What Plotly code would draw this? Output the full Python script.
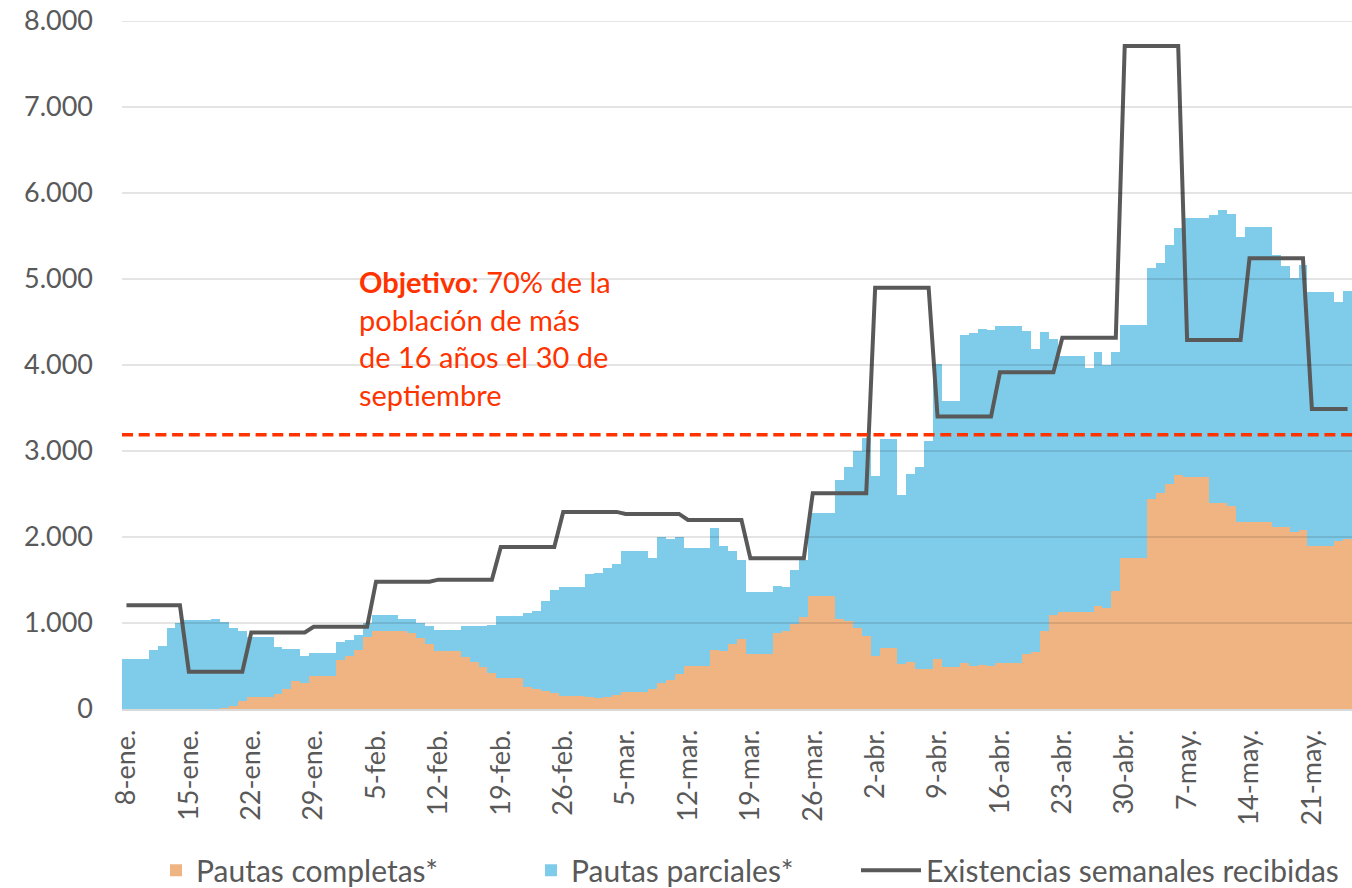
import pandas as pd
import plotly.graph_objects as go

# ---- data ----
dates = pd.date_range("2021-01-08", periods=138, freq="D")

completas = [
    0, 0, 0, 0, 0, 0, 0, 0, 0, 0, 0, 15, 35, 97,
    143, 143, 143, 174, 235, 329, 299, 388, 388, 388, 570, 620, 686, 833,
    910, 910, 910, 905, 880, 822, 754, 672, 672, 672, 599, 541, 485, 422,
    357, 357, 357, 259, 229, 209, 182, 151, 151, 151, 136, 124, 143, 163,
    202, 202, 202, 229, 299, 337, 407, 500, 500, 500, 686, 674, 754, 810,
    640, 640, 640, 880, 903, 992, 1070, 1314, 1314, 1314, 1045, 1027, 938, 851,
    612, 705, 705, 523, 543, 465, 465, 583, 492, 492, 532, 495, 515, 495,
    532, 532, 532, 640, 668, 906, 1088, 1125, 1125, 1125, 1131, 1202, 1178, 1371,
    1760, 1760, 1760, 2445, 2516, 2615, 2723, 2695, 2695, 2695, 2392, 2392, 2360, 2172,
    2172, 2172, 2172, 2112, 2120, 2060, 2085, 1895, 1895, 1895, 1958, 1978,
]

parciales = [
    585, 585, 585, 686, 733, 938, 996, 1035, 1035, 1035, 1043, 1000, 903, 810,
    690, 690, 690, 543, 459, 365, 317, 259, 259, 259, 213, 186, 174, 162,
    183, 183, 183, 138, 163, 173, 211, 247, 247, 247, 366, 424, 480, 553,
    724, 724, 724, 861, 914, 1050, 1202, 1271, 1271, 1271, 1430, 1454, 1500, 1519,
    1635, 1635, 1635, 1530, 1697, 1643, 1597, 1376, 1376, 1376, 1415, 1221, 1086, 927,
    718, 718, 718, 552, 512, 624, 665, 966, 966, 966, 1613, 1791, 2066, 2296,
    2097, 2435, 2435, 1965, 2186, 2345, 2653, 3427, 3085, 3085, 3812, 3873, 3901, 3909,
    3926, 3926, 3926, 3760, 3517, 3474, 3215, 2985, 2985, 2985, 2839, 2946, 2823, 2777,
    2700, 2700, 2700, 2685, 2666, 2780, 2874, 3011, 3011, 3011, 3352, 3410, 3396, 3320,
    3429, 3429, 3429, 3167, 3035, 2948, 3078, 2950, 2950, 2950, 2771, 2886,
]

existencias = (
    [1206] * 7 + [434] * 7 + [890] * 7 + [957] * 7 + [1480] * 7 + [1504] * 7
    + [1885] * 7 + [2292] * 7 + [2268] * 7 + [2198] * 7 + [1752] * 7 + [2508] * 7
    + [4899] * 7 + [3400] * 7 + [3915] * 7 + [4316] * 7 + [7710] * 7 + [4290] * 7
    + [5240] * 7 + [3487] * 5
)

tick_dates = pd.date_range("2021-01-08", periods=20, freq="7D")
tick_text = ["8-ene.", "15-ene.", "22-ene.", "29-ene.", "5-feb.", "12-feb.", "19-feb.",
             "26-feb.", "5-mar.", "12-mar.", "19-mar.", "26-mar.", "2-abr.", "9-abr.",
             "16-abr.", "23-abr.", "30-abr.", "7-may.", "14-may.", "21-may."]

y_ticks = [0, 1000, 2000, 3000, 4000, 5000, 6000, 7000, 8000]
objetivo = 3190

# ---- styles ----
FONT = "Lato"
GREY = "#595959"
ORANGE = "#F0B482"
BLUE = "#7FCBEA"
RED = "#FF3300"
LEG_FONT = dict(family=FONT, size=30, color=GREY)

fig = go.Figure()
fig.add_trace(go.Bar(x=dates, y=completas, name="Pautas completas*", legend="legend",
                     marker=dict(color=ORANGE, line=dict(width=0))))
fig.add_trace(go.Bar(x=dates, y=parciales, name="Pautas parciales*", legend="legend2",
                     marker=dict(color=BLUE, line=dict(width=0))))
fig.add_trace(go.Scatter(x=dates, y=existencias, mode="lines", legend="legend3",
                         name="Existencias semanales recibidas",
                         line=dict(color=GREY, width=4)))

# gridlines drawn over the fills (as in the reference)
for v in y_ticks[1:]:
    fig.add_shape(type="line", xref="paper", x0=0, x1=1, yref="y", y0=v, y1=v,
                  line=dict(color="rgba(0,0,0,0.14)", width=1.5), layer="above")

fig.add_shape(type="line", xref="paper", x0=0, x1=1, yref="y", y0=objetivo, y1=objetivo,
              line=dict(color=RED, width=3.5, dash="11px,5.7px"), layer="above")

fig.add_annotation(xref="paper", yref="paper", x=0.191, y=0.649,
                   xanchor="left", yanchor="top", align="left", showarrow=False,
                   text="<b>Objetivo</b>: 70% de la<br>población de más<br>de 16 años el 30 de<br>septiembre",
                   font=dict(family=FONT, size=29, color=RED))


def leg(x_px, **kw):
    d = dict(orientation="h", xref="container", yref="container",
             x=x_px / 1352, y=0.02, xanchor="left", yanchor="middle",
             bgcolor="rgba(0,0,0,0)", font=LEG_FONT)
    d.update(kw)
    return d


fig.update_layout(
    width=1352, height=888,
    margin=dict(l=122, r=0, t=21, b=179),
    paper_bgcolor="white", plot_bgcolor="white",
    barmode="stack", bargap=0,
    separators=",.",
    font=dict(family=FONT, size=27, color=GREY),
    showlegend=True,
    legend=leg(198 - 42),
    legend2=leg(573 - 42),
    legend3=leg(928 - 72, itemwidth=60),
    xaxis=dict(type="date",
               range=[dates[0] - pd.Timedelta(hours=12), dates[-1] + pd.Timedelta(hours=12)],
               tickmode="array", tickvals=tick_dates, ticktext=tick_text,
               tickangle=-90, showgrid=False, zeroline=False,
               showline=True, linecolor="#D9D9D9", linewidth=1.5,
               ticks="", ticklabelstandoff=8,
               tickfont=dict(family=FONT, size=27, color=GREY)),
    yaxis=dict(range=[0, 8000], tickmode="array", tickvals=y_ticks,
               tickformat=",d", showgrid=False, zeroline=False, showline=False,
               ticks="", ticklabelstandoff=28,
               tickfont=dict(family=FONT, size=27, color=GREY)),
)

fig.write_html("out.html", config={"displayModeBar": False},
               post_script="document.body.style.margin='0';")
